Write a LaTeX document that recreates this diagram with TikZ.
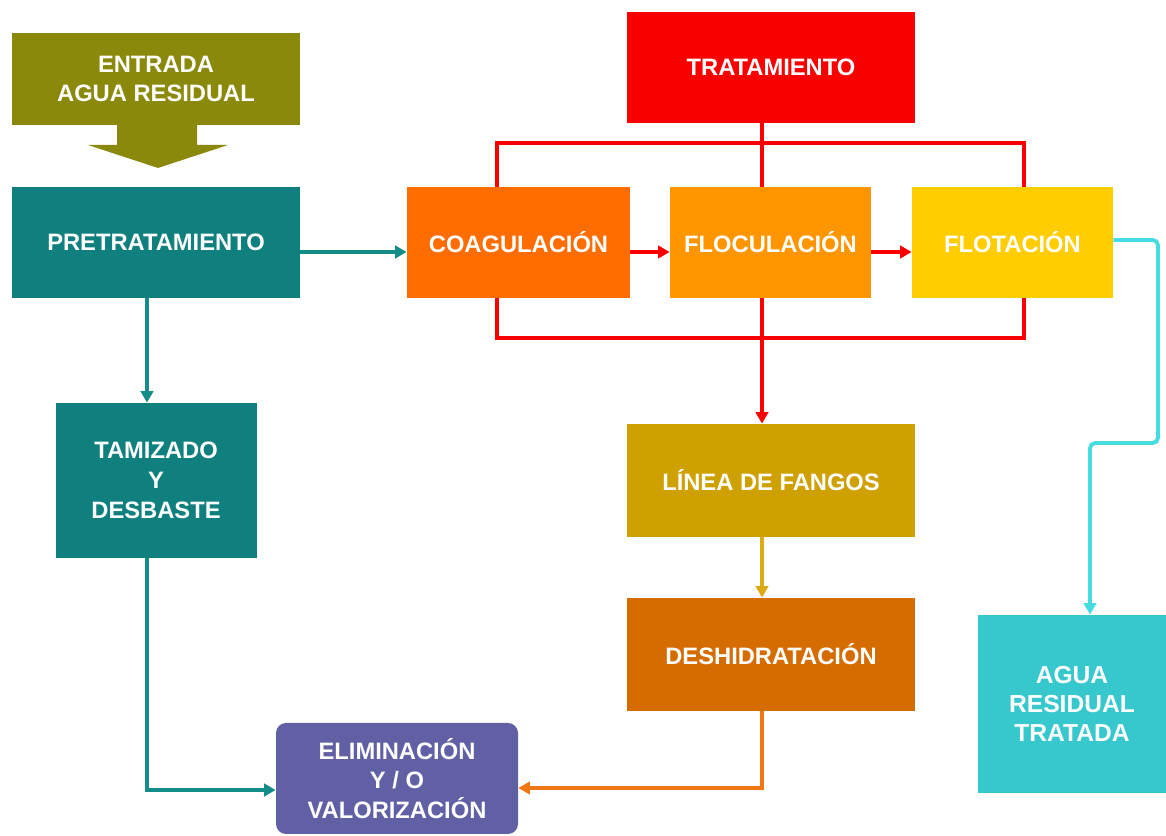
\documentclass[tikz,border=0pt]{standalone}
\usepackage{fontspec}
\setmainfont{Liberation Sans}
\usetikzlibrary{backgrounds, arrows.meta}

\definecolor{olivebox}{RGB}{139,137,12}
\definecolor{tealbox}{RGB}{16,128,126}
\definecolor{tealline}{RGB}{20,140,135}
\definecolor{purplebox}{RGB}{98,96,165}
\definecolor{redbox}{RGB}{250,0,0}
\definecolor{coagbox}{RGB}{255,108,0}
\definecolor{flocbox}{RGB}{255,150,0}
\definecolor{flotbox}{RGB}{255,205,0}
\definecolor{fangobox}{RGB}{206,160,0}
\definecolor{fangoline}{RGB}{220,170,20}
\definecolor{deshbox}{RGB}{212,108,0}
\definecolor{deshline}{RGB}{240,120,20}
\definecolor{aguabox}{RGB}{54,200,204}
\definecolor{agualine}{RGB}{70,220,225}

\begin{document}
\begin{tikzpicture}[box/.style={rectangle, text=white, align=center, inner sep=0pt,
                      font=\bfseries\fontsize{13.5}{17}\selectfont},
                    link/.style={-{Triangle[length=6.5pt, width=7pt]}, line width=2.2pt}]
            \useasboundingbox (0,0) rectangle (23.32,16.72);

            \node[box, fill=olivebox, minimum width=5.76cm, minimum height=1.84cm] (entrada) at (3.12,15.14) {ENTRADA\\AGUA RESIDUAL};
            \fill[olivebox] (2.34,14.22) -- (3.94,14.22) -- (3.94,13.82) -- (4.56,13.82) -- (3.16,13.36) -- (1.76,13.82) -- (2.34,13.82) -- cycle;

            \node[box, fill=tealbox, minimum width=5.76cm, minimum height=2.22cm] (pretrat) at (3.12,11.87) {PRETRATAMIENTO};
            \node[box, fill=tealbox, minimum width=4.02cm, minimum height=3.10cm] (tamizado) at (3.12,7.11) {TAMIZADO\\Y\\DESBASTE};
            \node[box, fill=purplebox, rounded corners=0.2cm, minimum width=4.84cm, minimum height=2.22cm] (elim) at (7.94,1.15) {ELIMINACIÓN\\Y / O\\VALORIZACIÓN};

            \node[box, fill=redbox, minimum width=5.76cm, minimum height=2.22cm] (tratamiento) at (15.42,15.37) {TRATAMIENTO};
            \node[box, fill=coagbox, minimum width=4.46cm, minimum height=2.22cm] (coag) at (10.37,11.87) {COAGULACIÓN};
            \node[box, fill=flocbox, minimum width=4.02cm, minimum height=2.22cm] (floc) at (15.41,11.87) {FLOCULACIÓN};
            \node[box, fill=flotbox, minimum width=4.02cm, minimum height=2.22cm] (flot) at (20.25,11.87) {FLOTACIÓN};

            \node[box, fill=fangobox, minimum width=5.76cm, minimum height=2.26cm] (fangos) at (15.42,7.11) {LÍNEA DE FANGOS};
            \node[box, fill=deshbox, minimum width=5.76cm, minimum height=2.26cm] (desh) at (15.42,3.63) {DESHIDRATACIÓN};
            \node[box, fill=aguabox, font=\bfseries\fontsize{14}{16.5}\selectfont, minimum width=3.76cm, minimum height=3.56cm] (agua) at (21.44,2.64) {AGUA\\RESIDUAL\\TRATADA};

            \coordinate (frametop) at (15.24,13.86);
            \coordinate (framebot) at (15.24,9.96);
            \coordinate (bend) at (23.16,7.86);

            \begin{scope}[on background layer]
            % tratamiento
            \draw[link, redbox] ([xshift=-0.18cm]tratamiento.south) -- ([xshift=-0.18cm]fangos.north);
            \draw[redbox, line width=2.2pt] ([xshift=-0.43cm]coag.north) |- (frametop) -| ([xshift=0.23cm]flot.north);
            \draw[redbox, line width=2.2pt] ([xshift=-0.43cm]coag.south) |- (framebot) -| ([xshift=0.23cm]flot.south);
            \end{scope}
            \draw[link, redbox] ([yshift=-0.19cm]coag.east) -- ([yshift=-0.19cm]floc.west);
            \draw[link, redbox] ([yshift=-0.19cm]floc.east) -- ([yshift=-0.19cm]flot.west);

            % pretratamiento
            \draw[link, tealline] ([yshift=-0.19cm]pretrat.east) -- ([yshift=-0.19cm]coag.west);
            \draw[link, tealline] ([xshift=-0.18cm]pretrat.south) -- ([xshift=-0.18cm]tamizado.north);
            \draw[link, tealline] ([xshift=-0.18cm]tamizado.south) |- ([yshift=-0.23cm]elim.west);

            % fangos
            \draw[link, fangoline] ([xshift=-0.18cm]fangos.south) -- ([xshift=-0.18cm]desh.north);
            \draw[link, deshline] ([xshift=-0.18cm]desh.south) |- ([yshift=-0.19cm]elim.east);

            % salida
            \draw[link, agualine, rounded corners=3pt] ([yshift=0.05cm]flot.east) -| (bend) -| ([xshift=0.36cm]agua.north);
        \end{tikzpicture}
\end{document}
